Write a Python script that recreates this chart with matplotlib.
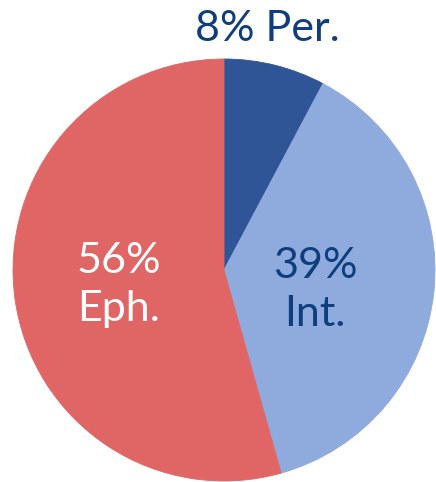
import matplotlib
matplotlib.use("Agg")
import matplotlib.pyplot as plt

# Share of each category (percent, as labelled)
categories = ["Per.", "Int.", "Eph."]
values = [8, 39, 56]
colors = ["#2F5597", "#8FAADC", "#E06666"]
text_colors = ["#0E3E7C", "#0E3E7C", "#FFFFFF"]

plt.rcParams["font.family"] = ["Lato", "DejaVu Sans"]

W, H = 436, 482
fig = plt.figure(figsize=(W / 100, H / 100), dpi=100)
ax = fig.add_axes([0, 0, 1, 1])

cx, cy, r = 224, 212, 211
wedges, _ = ax.pie(values, colors=colors, startangle=90, counterclock=False,
                   center=(cx, cy), radius=r, frame=True,
                   wedgeprops=dict(linewidth=0))
for w, c in zip(wedges, colors):
    w.set_edgecolor(c)
    w.set_linewidth(0.6)
ax.set_xlim(0, W)
ax.set_ylim(0, H)
ax.set_aspect("equal")
ax.axis("off")

fs = 31
# Per. label sits above the pie
ax.text(267, H - 29, f"{values[0]}% {categories[0]}", ha="center", va="center",
        fontsize=fs, color=text_colors[0])
ax.text(315, H - 290, f"{values[1]}%\n{categories[1]}", ha="center", va="center",
        fontsize=fs, color=text_colors[1], linespacing=1.3)
ax.text(119, H - 285, f"{values[2]}%\n{categories[2]}", ha="center", va="center",
        fontsize=fs, color=text_colors[2], linespacing=1.3)

fig.savefig("out.png", dpi=100)
